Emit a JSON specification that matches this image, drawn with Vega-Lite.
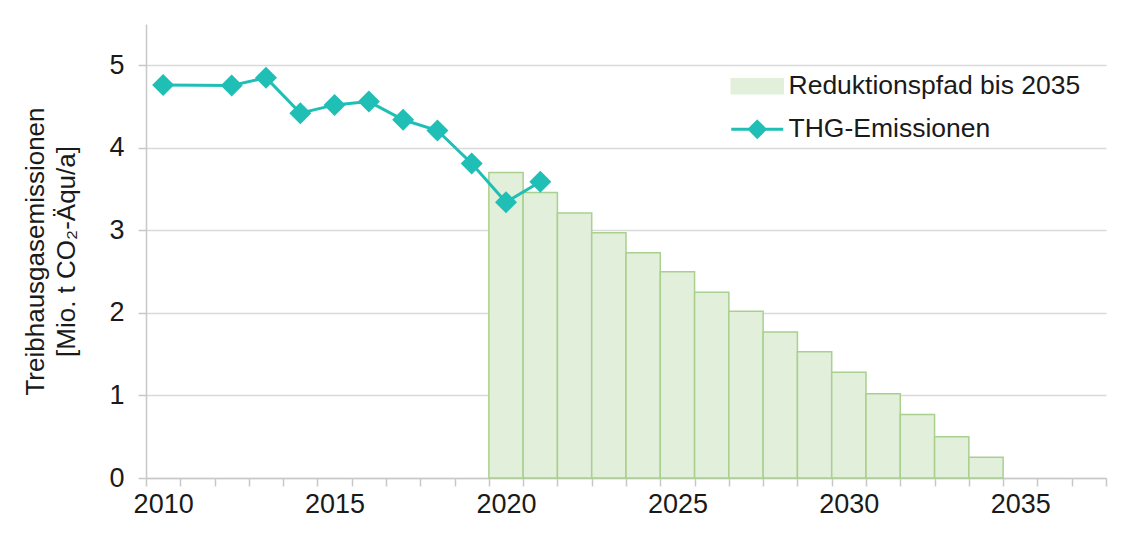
{
  "$schema": "https://vega.github.io/schema/vega-lite/v6.json",
  "autosize": {"type": "none"},
  "width": 960,
  "height": 454,
  "padding": {"left": 146, "top": 24, "right": 23, "bottom": 65},
  "background": "white",
  "config": {
    "font": "Liberation Sans",
    "view": {"stroke": null},
    "axis": {"labelFont": "Liberation Sans", "titleFont": "Liberation Sans", "labelColor": "#1a1a1a", "titleColor": "#1a1a1a", "labelFontSize": 27, "titleFontSize": 26, "titleFontWeight": "normal", "domainColor": "#c8c8c8", "tickColor": "#c8c8c8", "gridColor": "#d9d9d9", "domainWidth": 1.5, "tickWidth": 1.5, "gridWidth": 1.5}
  },
  "data": {
    "values": [
      {"year": 2010, "value": 4.76, "series": "THG-Emissionen"},
      {"year": 2012, "value": 4.755, "series": "THG-Emissionen"},
      {"year": 2013, "value": 4.85, "series": "THG-Emissionen"},
      {"year": 2014, "value": 4.42, "series": "THG-Emissionen"},
      {"year": 2015, "value": 4.52, "series": "THG-Emissionen"},
      {"year": 2016, "value": 4.56, "series": "THG-Emissionen"},
      {"year": 2017, "value": 4.34, "series": "THG-Emissionen"},
      {"year": 2018, "value": 4.21, "series": "THG-Emissionen"},
      {"year": 2019, "value": 3.81, "series": "THG-Emissionen"},
      {"year": 2020, "value": 3.34, "series": "THG-Emissionen"},
      {"year": 2021, "value": 3.59, "series": "THG-Emissionen"},
      {"year": 2020, "value": 3.70, "series": "Reduktionspfad bis 2035"},
      {"year": 2021, "value": 3.46, "series": "Reduktionspfad bis 2035"},
      {"year": 2022, "value": 3.21, "series": "Reduktionspfad bis 2035"},
      {"year": 2023, "value": 2.97, "series": "Reduktionspfad bis 2035"},
      {"year": 2024, "value": 2.73, "series": "Reduktionspfad bis 2035"},
      {"year": 2025, "value": 2.50, "series": "Reduktionspfad bis 2035"},
      {"year": 2026, "value": 2.25, "series": "Reduktionspfad bis 2035"},
      {"year": 2027, "value": 2.02, "series": "Reduktionspfad bis 2035"},
      {"year": 2028, "value": 1.77, "series": "Reduktionspfad bis 2035"},
      {"year": 2029, "value": 1.53, "series": "Reduktionspfad bis 2035"},
      {"year": 2030, "value": 1.28, "series": "Reduktionspfad bis 2035"},
      {"year": 2031, "value": 1.02, "series": "Reduktionspfad bis 2035"},
      {"year": 2032, "value": 0.77, "series": "Reduktionspfad bis 2035"},
      {"year": 2033, "value": 0.50, "series": "Reduktionspfad bis 2035"},
      {"year": 2034, "value": 0.25, "series": "Reduktionspfad bis 2035"}
    ]
  },
  "encoding": {
    "x": {
      "field": "year", "type": "ordinal",
      "scale": {"domain": [2010,2011,2012,2013,2014,2015,2016,2017,2018,2019,2020,2021,2022,2023,2024,2025,2026,2027,2028,2029,2030,2031,2032,2033,2034,2035,2036,2037], "paddingInner": 0, "paddingOuter": 0},
      "axis": {"title": null, "labelAngle": 0, "tickBand": "extent", "tickSize": 8, "labelPadding": 5, "labelExpr": "datum.value % 5 === 0 ? datum.label : ''", "grid": false}
    },
    "y": {
      "field": "value", "type": "quantitative",
      "scale": {"domain": [0, 5.5], "nice": false},
      "axis": {"values": [0,1,2,3,4,5], "title": ["Treibhausgasemissionen", "[Mio. t CO₂-Äqu/a]"], "titleLineHeight": 31, "titlePadding": 29, "tickSize": 8, "labelPadding": 14, "grid": true}
    },
    "color": {
      "field": "series", "type": "nominal",
      "scale": {"domain": ["Reduktionspfad bis 2035", "THG-Emissionen"], "range": ["#e2efda", "#1fbfb6"]},
      "legend": {
        "title": null, "orient": "none", "legendX": 584, "legendY": 49, "padding": 0,
        "labelFont": "Liberation Sans", "labelFontSize": 26.5, "labelColor": "#1a1a1a", "labelOffset": 18, "labelLimit": 500,
        "symbolSize": 2704, "symbolOffset": 14, "rowPadding": 15,
        "encode": {
          "symbols": {
            "update": {
              "shape": {"signal": "datum.value === 'THG-Emissionen' ? 'M-1,0H1M0,-0.3L0.3,0L0,0.3L-0.3,0Z' : 'M-1,-0.29H1V0.29H-1Z'"},
              "fill": {"signal": "datum.value === 'THG-Emissionen' ? '#1fbfb6' : '#e2efda'"},
              "stroke": {"signal": "datum.value === 'THG-Emissionen' ? '#1fbfb6' : '#a9d08e'"},
              "strokeWidth": {"signal": "datum.value === 'THG-Emissionen' ? 3 : 1.5"},
              "opacity": {"value": 1}
            }
          }
        }
      }
    }
  },
  "layer": [
    {
      "transform": [{"filter": "datum.series === 'Reduktionspfad bis 2035'"}],
      "mark": {"type": "bar", "stroke": "#a9d08e", "strokeWidth": 1.5, "opacity": 1}
    },
    {
      "transform": [{"filter": "datum.series === 'THG-Emissionen'"}],
      "mark": {"type": "line", "strokeWidth": 3, "point": {"shape": "diamond", "size": 484, "filled": true, "opacity": 1}}
    }
  ]
}
